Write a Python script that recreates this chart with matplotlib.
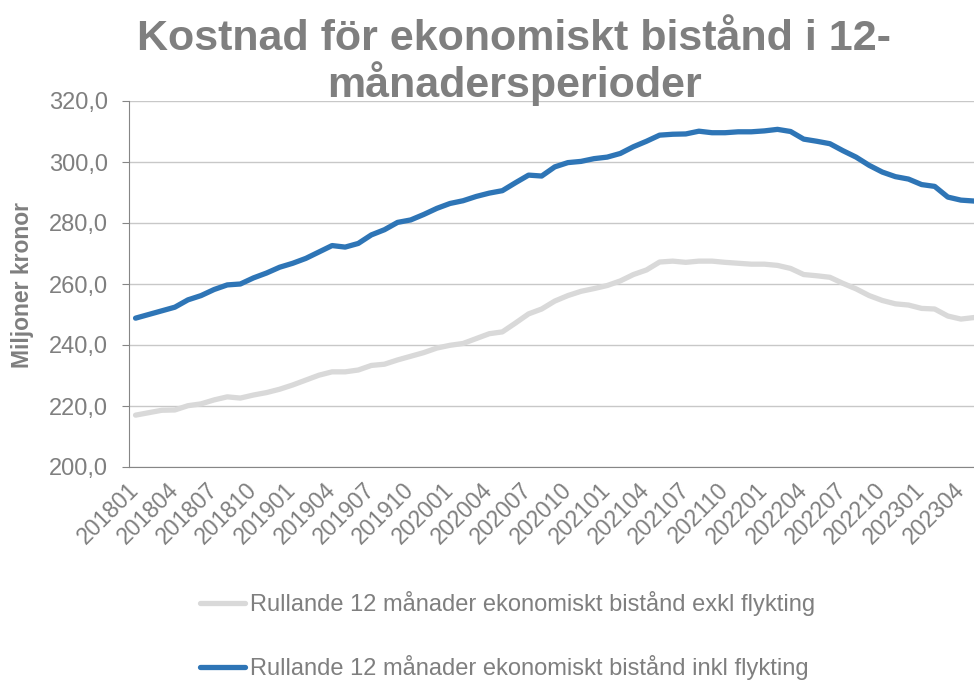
import matplotlib
matplotlib.use('Agg')
import matplotlib.pyplot as plt
import matplotlib.transforms as mtrans

plt.rcParams['font.family'] = ['Liberation Sans', 'DejaVu Sans']

# 201801 .. 202305, monthly
months = [f'{y}{m:02d}' for y in range(2018, 2024) for m in range(1, 13)][:65]

exkl = [217.0, 217.8, 218.6, 218.7, 220.1, 220.7, 222.0, 223.0, 222.6, 223.6,
        224.4, 225.5, 226.9, 228.5, 230.1, 231.2, 231.2, 231.8, 233.3, 233.7,
        235.1, 236.3, 237.5, 239.0, 239.9, 240.5, 242.1, 243.7, 244.3, 247.2,
        250.2, 251.8, 254.4, 256.2, 257.6, 258.5, 259.5, 261.0, 263.1, 264.6,
        267.2, 267.5, 267.1, 267.5, 267.5, 267.1, 266.8, 266.5, 266.5, 266.1,
        265.1, 263.1, 262.7, 262.2, 260.2, 258.4, 256.2, 254.6, 253.5, 253.1,
        252.0, 251.8, 249.5, 248.5, 249.0]

inkl = [248.8, 250.0, 251.2, 252.4, 254.8, 256.2, 258.2, 259.7, 260.0, 262.0,
        263.6, 265.5, 266.8, 268.4, 270.5, 272.6, 272.1, 273.3, 276.1, 277.8,
        280.2, 281.0, 282.8, 284.8, 286.4, 287.3, 288.7, 289.8, 290.6, 293.2,
        295.7, 295.4, 298.4, 299.8, 300.2, 301.1, 301.6, 302.8, 305.0, 306.8,
        308.8, 309.1, 309.2, 310.1, 309.6, 309.6, 309.9, 309.9, 310.2, 310.7,
        310.0, 307.5, 306.8, 306.0, 303.7, 301.6, 298.9, 296.7, 295.2, 294.4,
        292.6, 292.0, 288.5, 287.5, 287.2]

label_exkl = 'Rullande 12 månader ekonomiskt bistånd exkl flykting'
label_inkl = 'Rullande 12 månader ekonomiskt bistånd inkl flykting'

txt = '#7F7F7F'
axcol = '#868686'

fig = plt.figure(figsize=(9.74, 6.81), dpi=100)
ax = fig.add_axes([129/974, 1-467/681, 1-129/974, 366/681])

x = list(range(len(months)))
l1, = ax.plot(x, exkl, color='#D9D9D9', lw=3.8, solid_capstyle='round', label=label_exkl)
l2, = ax.plot(x, inkl, color='#2E75B6', lw=3.8, solid_capstyle='round', label=label_inkl)

ax.set_ylim(200, 320)
ax.set_xlim(-0.5, 64.0)
yt = list(range(200, 321, 20))
ax.set_yticks(yt)
ax.set_yticklabels([f'{v:.1f}'.replace('.', ',') for v in yt])
ax.set_xticks(x[::3])
ax.set_xticklabels(months[::3], rotation=45, ha='right', va='center', rotation_mode='anchor')
off = mtrans.ScaledTranslation(4/100, 0, fig.dpi_scale_trans)
for t in ax.get_xticklabels():
    t.set_transform(t.get_transform() + off)

ax.grid(axis='y', color='#C8C8C8', lw=1)
ax.set_axisbelow(True)
for s in ['top', 'right']:
    ax.spines[s].set_visible(False)
for s in ['left', 'bottom']:
    ax.spines[s].set_color(axcol)
ax.tick_params(axis='x', length=0, pad=14, labelsize=16.5, labelcolor=txt)
ax.tick_params(axis='y', length=5, color=axcol, pad=10, labelsize=17, labelcolor=txt)

fig.text(514/974, 1-50/681, 'Kostnad för ekonomiskt bistånd i 12-', ha='center', va='baseline',
         fontsize=31, fontweight='bold', color=txt)
fig.text(514/974, 1-97/681, 'månadersperioder', ha='center', va='baseline',
         fontsize=31, fontweight='bold', color=txt)
fig.text(23/974, 1-285/681, 'Miljoner kronor', rotation=90, ha='center', va='center',
         fontsize=16.5, fontweight='bold', color=txt)

fig.legend(handles=[l1, l2], loc='upper left', bbox_to_anchor=(200/974, 1-591/681),
           frameon=False, borderpad=0, borderaxespad=0, handlelength=1.9,
           handletextpad=0.2, labelspacing=1.67, fontsize=17, labelcolor=txt)

fig.savefig('out.png', dpi=100)
